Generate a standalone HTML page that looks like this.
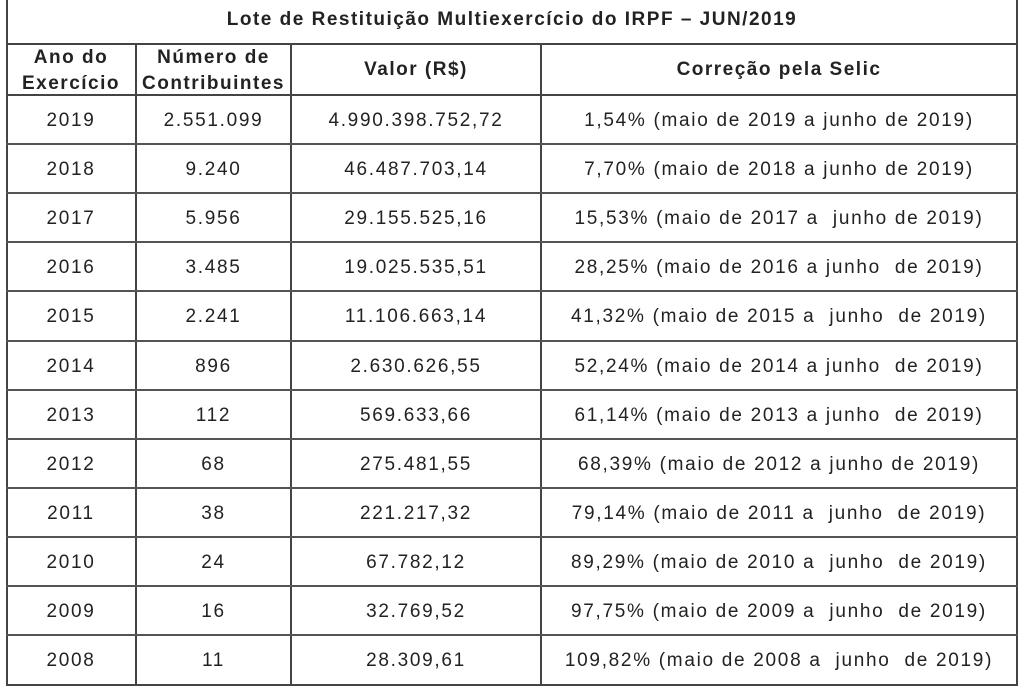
<!DOCTYPE html><html><head><style>
body{margin:0;background:#fff;width:1024px;height:691px;overflow:hidden;font-family:"Liberation Sans",sans-serif;color:#222}
.l{position:absolute;background:#444}
.h{position:absolute;left:6px;width:1012px;height:2px;background:#555}
.t{position:absolute;text-align:center;font-size:19px;line-height:22px;letter-spacing:1.7px;white-space:nowrap}
.b{font-weight:bold;letter-spacing:1.5px}
.c0{left:6px;width:130px}.c1{left:136px;width:155px}.c2{left:291px;width:250px}.c3{left:541px;width:476px}
</style></head><body>
<div class="l" style="left:6px;top:0;width:2px;height:686px"></div>
<div class="l" style="left:1016px;top:0;width:2px;height:686px"></div>
<div class="l" style="left:6px;top:43px;width:1012px;height:2px"></div>
<div class="l" style="left:6px;top:94px;width:1012px;height:2px"></div>
<div class="l" style="left:6px;top:684px;width:1012px;height:2px"></div>
<div class="l" style="left:135px;top:43px;width:2px;height:643px"></div>
<div class="l" style="left:290px;top:43px;width:2px;height:643px"></div>
<div class="l" style="left:540px;top:43px;width:2px;height:643px"></div>
<div class="h" style="top:143px"></div><div class="h" style="top:192px"></div><div class="h" style="top:241px"></div>
<div class="h" style="top:290px"></div><div class="h" style="top:340px"></div><div class="h" style="top:389px"></div>
<div class="h" style="top:438px"></div><div class="h" style="top:487px"></div><div class="h" style="top:536px"></div>
<div class="h" style="top:585px"></div><div class="h" style="top:634px"></div>
<div class="t b" style="left:6px;width:1012px;top:9px">Lote de Restituição Multiexercício do IRPF – JUN/2019</div>
<div class="t b c0" style="top:45px;line-height:26px">Ano do<br>Exercício</div>
<div class="t b c1" style="top:45px;line-height:26px">Número de<br>Contribuintes</div>
<div class="t b c2" style="top:59px">Valor (R$)</div>
<div class="t b c3" style="top:59px">Correção pela Selic</div>

<div class="t c0" style="top:110px">2019</div><div class="t c1" style="top:110px">2.551.099</div><div class="t c2" style="top:110px">4.990.398.752,72</div><div class="t c3" style="top:110px">1,54% (maio de 2019 a junho de 2019)</div>
<div class="t c0" style="top:159px">2018</div><div class="t c1" style="top:159px">9.240</div><div class="t c2" style="top:159px">46.487.703,14</div><div class="t c3" style="top:159px">7,70% (maio de 2018 a junho de 2019)</div>
<div class="t c0" style="top:208px">2017</div><div class="t c1" style="top:208px">5.956</div><div class="t c2" style="top:208px">29.155.525,16</div><div class="t c3" style="top:208px">15,53% (maio de 2017 a &nbsp;junho de 2019)</div>
<div class="t c0" style="top:257px">2016</div><div class="t c1" style="top:257px">3.485</div><div class="t c2" style="top:257px">19.025.535,51</div><div class="t c3" style="top:257px">28,25% (maio de 2016 a junho &nbsp;de 2019)</div>
<div class="t c0" style="top:306px">2015</div><div class="t c1" style="top:306px">2.241</div><div class="t c2" style="top:306px">11.106.663,14</div><div class="t c3" style="top:306px">41,32% (maio de 2015 a &nbsp;junho &nbsp;de 2019)</div>
<div class="t c0" style="top:356px">2014</div><div class="t c1" style="top:356px">896</div><div class="t c2" style="top:356px">2.630.626,55</div><div class="t c3" style="top:356px">52,24% (maio de 2014 a junho &nbsp;de 2019)</div>
<div class="t c0" style="top:405px">2013</div><div class="t c1" style="top:405px">112</div><div class="t c2" style="top:405px">569.633,66</div><div class="t c3" style="top:405px">61,14% (maio de 2013 a junho &nbsp;de 2019)</div>
<div class="t c0" style="top:454px">2012</div><div class="t c1" style="top:454px">68</div><div class="t c2" style="top:454px">275.481,55</div><div class="t c3" style="top:454px">68,39% (maio de 2012 a junho de 2019)</div>
<div class="t c0" style="top:503px">2011</div><div class="t c1" style="top:503px">38</div><div class="t c2" style="top:503px">221.217,32</div><div class="t c3" style="top:503px">79,14% (maio de 2011 a &nbsp;junho &nbsp;de 2019)</div>
<div class="t c0" style="top:552px">2010</div><div class="t c1" style="top:552px">24</div><div class="t c2" style="top:552px">67.782,12</div><div class="t c3" style="top:552px">89,29% (maio de 2010 a &nbsp;junho &nbsp;de 2019)</div>
<div class="t c0" style="top:601px">2009</div><div class="t c1" style="top:601px">16</div><div class="t c2" style="top:601px">32.769,52</div><div class="t c3" style="top:601px">97,75% (maio de 2009 a &nbsp;junho &nbsp;de 2019)</div>
<div class="t c0" style="top:650px">2008</div><div class="t c1" style="top:650px">11</div><div class="t c2" style="top:650px">28.309,61</div><div class="t c3" style="top:650px">109,82% (maio de 2008 a &nbsp;junho &nbsp;de 2019)</div>
</body></html>
